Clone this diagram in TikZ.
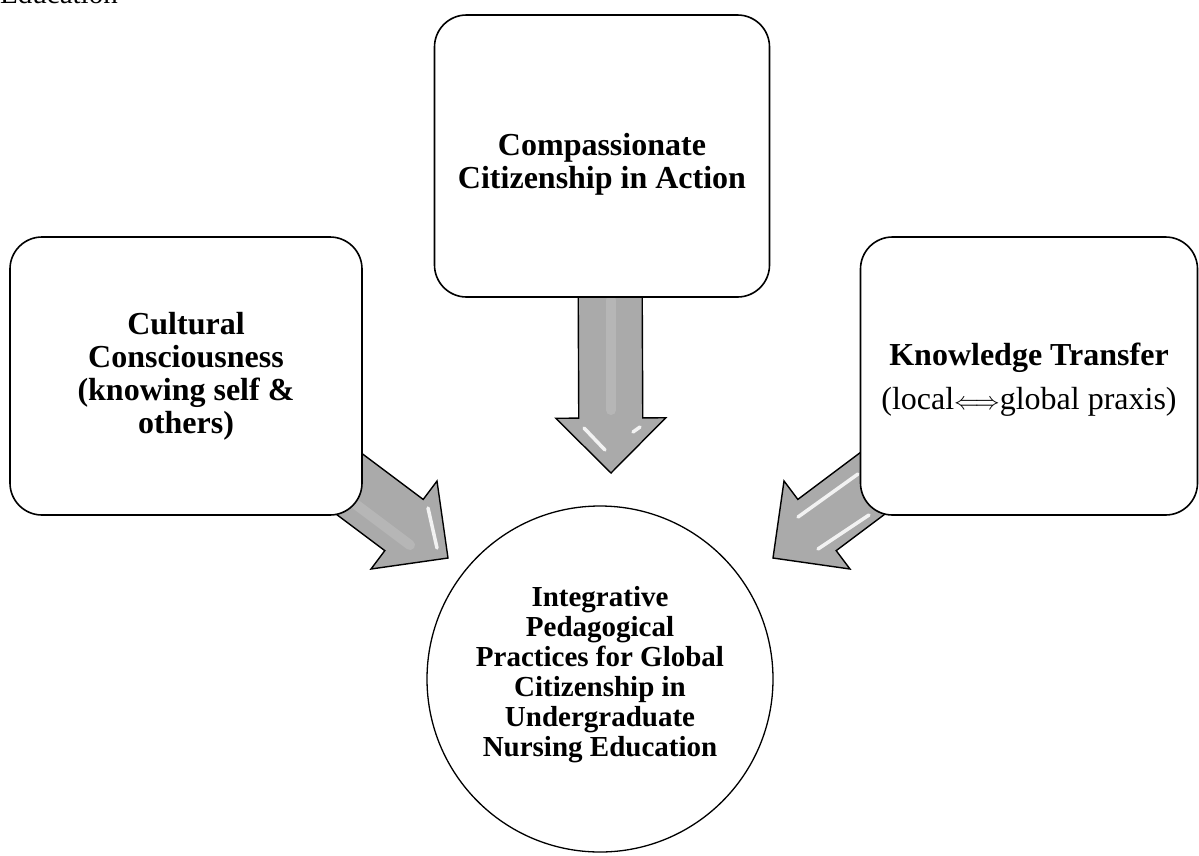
\documentclass[tikz,border=0pt]{standalone}
\usepackage{fontspec}
\setmainfont{Liberation Serif}
\usetikzlibrary{calc}
\definecolor{arrowgray}{RGB}{170,170,170}
\tikzset{
  box/.style={draw=black, line width=1.6pt, rounded corners=32pt, fill=white,
    rectangle, align=center, inner sep=0pt},
  hub/.style={draw=black, line width=1.3pt, fill=white, circle, align=center, inner sep=0pt,
    minimum size=346pt},
  lbl/.style={align=center, inner sep=0pt},
  blockarrow/.style={draw=black, line width=1.4pt, fill=arrowgray, line join=miter},
  gloss/.style={draw=white, line width=3.5pt, opacity=0.85, line cap=round},
  softgloss/.style={draw=white, line width=10pt, opacity=0.15, line cap=round},
}
\newcommand\myarrow[2]{%
  \coordinate (hb) at ($(#2)!55pt!(#1)$);
  \draw[blockarrow] ($(#1)!32pt!90:(#2)$) -- ($(hb)!32pt!-90:(#1)$)
     -- ($(hb)!55pt!-90:(#1)$) -- (#2) -- ($(hb)!55pt!90:(#1)$)
     -- ($(hb)!32pt!90:(#1)$) -- ($(#1)!32pt!-90:(#2)$) -- cycle;
}
\begin{document}
\begin{tikzpicture}[x=1pt,y=-1pt]
\useasboundingbox (0,0) rectangle (1199,855);
\clip (0,0) rectangle (1199,855);
\node[anchor=base west, inner sep=0pt, font=\fontsize{29}{30}\selectfont] (cap) at (0,3) {Education};

% arrow end points
\coordinate (a1s) at (610,250);  \coordinate (a1t) at (611,473);
\coordinate (a2s) at (328,468);  \coordinate (a2t) at (448,558);
\coordinate (a3s) at (893,468);  \coordinate (a3t) at (773,558);
\myarrow{a1s}{a1t}
\myarrow{a2s}{a2t}
\myarrow{a3s}{a3t}

% gloss highlights
\draw[softgloss] (611,300) -- (611,410);
\draw[gloss] (584,428) -- (605,450);
\draw[gloss] (633,432) -- (640,427);
\draw[softgloss] (350,500) -- (410,545);
\draw[gloss] (428,508) -- (437,548);
\draw[gloss] (798,517) -- (858,474);
\draw[gloss] (818,549) -- (869,515);

% boxes
\node[box, minimum width=335pt, minimum height=282pt] (ctop) at (602,156) {};
\node[lbl, font=\fontsize{32}{33}\bfseries\selectfont] (ttop) at ($(ctop.center)+(0,8)$)
  {Compassionate\\Citizenship in Action};
\node[box, minimum width=352pt, minimum height=278pt] (cleft) at (186,376) {};
\node[lbl, font=\fontsize{32}{33}\bfseries\selectfont] (tleft) at (cleft.center)
  {Cultural\\Consciousness\\(knowing self \&\\others)};
\node[box, minimum width=337pt, minimum height=278pt] (cright) at (1029,376) {};
\node[lbl, font=\fontsize{32}{44}\selectfont] (tright) at ($(cright.center)+(0,4)$)
  {\textbf{Knowledge Transfer}\\(local$\Longleftrightarrow$global praxis)};
\node[hub] (hubc) at (600,679) {};
\node[lbl, font=\fontsize{29}{30}\bfseries\selectfont] (thub) at ($(hubc.center)+(0,-4)$)
  {Integrative\\Pedagogical\\Practices for Global\\Citizenship in\\Undergraduate\\Nursing Education};
\end{tikzpicture}
\end{document}
